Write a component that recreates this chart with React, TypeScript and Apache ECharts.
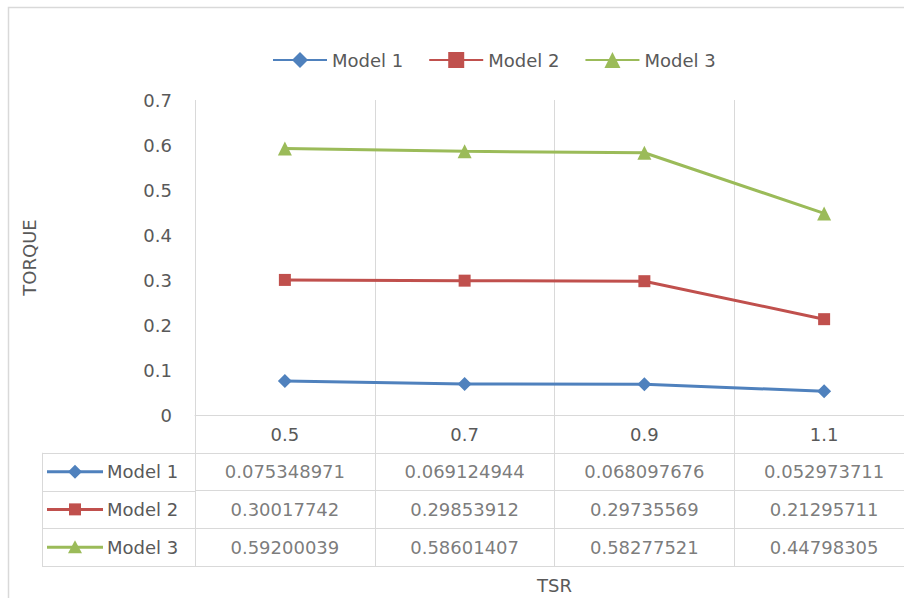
import React, { useEffect, useRef } from "react";
import * as echarts from "echarts";

const categories = ["0.5", "0.7", "0.9", "1.1"];
const seriesNames = ["Model 1", "Model 2", "Model 3"];
const model1 = [0.075348971, 0.069124944, 0.068097676, 0.052973711];
const model2 = [0.30017742, 0.29853912, 0.29735569, 0.21295711];
const model3 = [0.59200039, 0.58601407, 0.58277521, 0.44798305];
const seriesValues = [model1, model2, model3];
const colors = ["#4F81BD", "#C0504D", "#9BBB59"];
const symbols = ["diamond", "rect", "triangle"];
const symbolSizes = [14, 12, 14];

const FONT = "DejaVu Sans";
const TXT = "#595959";
const GRID = "#d9d9d9";

export default function App() {
  const ref = useRef<HTMLDivElement>(null);
  useEffect(() => {
    if (!ref.current) return;
    const chart = echarts.init(ref.current, undefined, { renderer: "svg" });

    const tableTop = 415;
    const rowH = 151 / 4;
    const headerGraphics: any[] = [];
    seriesNames.forEach((name, i) => {
      const y = tableTop + rowH * (i + 1.5);
      headerGraphics.push({
        type: "line",
        shape: { x1: 47, y1: y, x2: 103, y2: y },
        style: { stroke: colors[i], lineWidth: 3 },
      });
      if (i === 0) {
        headerGraphics.push({
          type: "polygon",
          shape: { points: [[75, y - 7], [82, y], [75, y + 7], [68, y]] },
          style: { fill: colors[i] },
        });
      } else if (i === 1) {
        headerGraphics.push({
          type: "rect",
          shape: { x: 69, y: y - 6, width: 12, height: 12 },
          style: { fill: colors[i] },
        });
      } else {
        headerGraphics.push({
          type: "polygon",
          shape: { points: [[75, y - 7], [82, y + 6], [68, y + 6]] },
          style: { fill: colors[i] },
        });
      }
      headerGraphics.push({
        type: "text",
        x: 107,
        y: y,
        style: {
          text: name,
          fill: TXT,
          fontSize: 18,
          fontFamily: FONT,
          verticalAlign: "middle",
          align: "left",
        },
      });
    });
    const hLines: any[] = [];
    for (let r = 1; r <= 4; r++) {
      const y = Math.round(tableTop + rowH * r) + 0.5;
      hLines.push({
        type: "line",
        shape: { x1: 42, y1: y, x2: 196, y2: y },
        style: { stroke: GRID, lineWidth: 1 },
      });
    }
    hLines.push({
      type: "line",
      shape: { x1: 42.5, y1: tableTop + rowH, x2: 42.5, y2: tableTop + rowH * 4 },
      style: { stroke: GRID, lineWidth: 1 },
    });

    const tableSeries = seriesValues.map((vals, i) => ({
      type: "scatter",
      name: "table" + i,
      xAxisIndex: 1,
      yAxisIndex: 1,
      symbolSize: 2,
      itemStyle: { color: "rgba(0,0,0,0)" },
      silent: true,
      data: vals.map((v, j) => [j, i + 1.5, v]),
      label: {
        show: true,
        position: "inside",
        formatter: (p: any) => String(p.data[2]),
        color: TXT,
        fontSize: 18,
        fontFamily: FONT,
      },
      labelLayout: { hideOverlap: false },
    }));

    chart.setOption({
      animation: false,
      backgroundColor: "#ffffff",
      textStyle: { fontFamily: FONT, color: TXT },
      graphic: [
        {
          type: "rect",
          shape: { x: 8.5, y: 7.5, width: 1000, height: 700 },
          style: { fill: "none", stroke: GRID, lineWidth: 1.5 },
          silent: true,
        },
        ...hLines,
        ...headerGraphics,
      ],
      legend: {
        data: seriesNames,
        left: 267,
        top: 46,
        itemWidth: 54,
        itemHeight: 20,
        itemGap: 25,
        textStyle: { fontSize: 18, color: TXT, fontFamily: FONT },
      },
      grid: [
        { left: 195, top: 100, width: 719, height: 315 },
        { left: 195, top: 415, width: 719, height: 151 },
      ],
      xAxis: [
        {
          type: "category",
          gridIndex: 0,
          data: categories,
          boundaryGap: true,
          axisLine: { show: true, lineStyle: { color: GRID, width: 1 } },
          axisTick: { show: false },
          splitLine: { show: true, lineStyle: { color: GRID, width: 1 } },
          axisLabel: { color: TXT, fontSize: 18, fontFamily: FONT, margin: 10 },
        },
        {
          type: "category",
          gridIndex: 1,
          data: categories,
          boundaryGap: true,
          axisLine: { show: false },
          axisTick: { show: false },
          axisLabel: { show: false },
          splitLine: { show: true, lineStyle: { color: GRID, width: 1 } },
          name: "TSR",
          nameLocation: "middle",
          nameGap: 10,
          nameTextStyle: { color: TXT, fontSize: 18, fontFamily: FONT },
        },
      ],
      yAxis: [
        {
          type: "value",
          gridIndex: 0,
          min: 0,
          max: 0.7,
          interval: 0.1,
          axisLine: { show: false },
          axisTick: { show: false },
          splitLine: { show: false },
          axisLabel: {
            color: TXT,
            fontSize: 18,
            fontFamily: FONT,
            margin: 23,
            formatter: (v: number) => String(+v.toFixed(1)),
          },
          name: "TORQUE",
          nameLocation: "middle",
          nameRotate: 90,
          nameGap: 157,
          nameTextStyle: { color: TXT, fontSize: 18, fontFamily: FONT },
        },
        {
          type: "value",
          gridIndex: 1,
          min: 0,
          max: 4,
          interval: 1,
          inverse: true,
          axisLine: { show: false },
          axisTick: { show: false },
          axisLabel: { show: false },
          splitLine: { show: true, lineStyle: { color: GRID, width: 1 } },
        },
      ],
      series: [
        ...seriesNames.map((name, i) => ({
          type: "line",
          name,
          xAxisIndex: 0,
          yAxisIndex: 0,
          data: seriesValues[i],
          symbol: symbols[i],
          symbolSize: symbolSizes[i],
          color: colors[i],
          itemStyle: { color: colors[i] },
          lineStyle: { color: colors[i], width: 3 },
        })),
        ...tableSeries,
      ],
    });
    return () => chart.dispose();
  }, []);
  return (
    <div
      style={{
        position: "absolute",
        left: 0,
        top: 0,
        width: 904,
        height: 598,
        overflow: "hidden",
      }}
    >
      <div ref={ref} style={{ width: 1000, height: 598 }} />
    </div>
  );
}
